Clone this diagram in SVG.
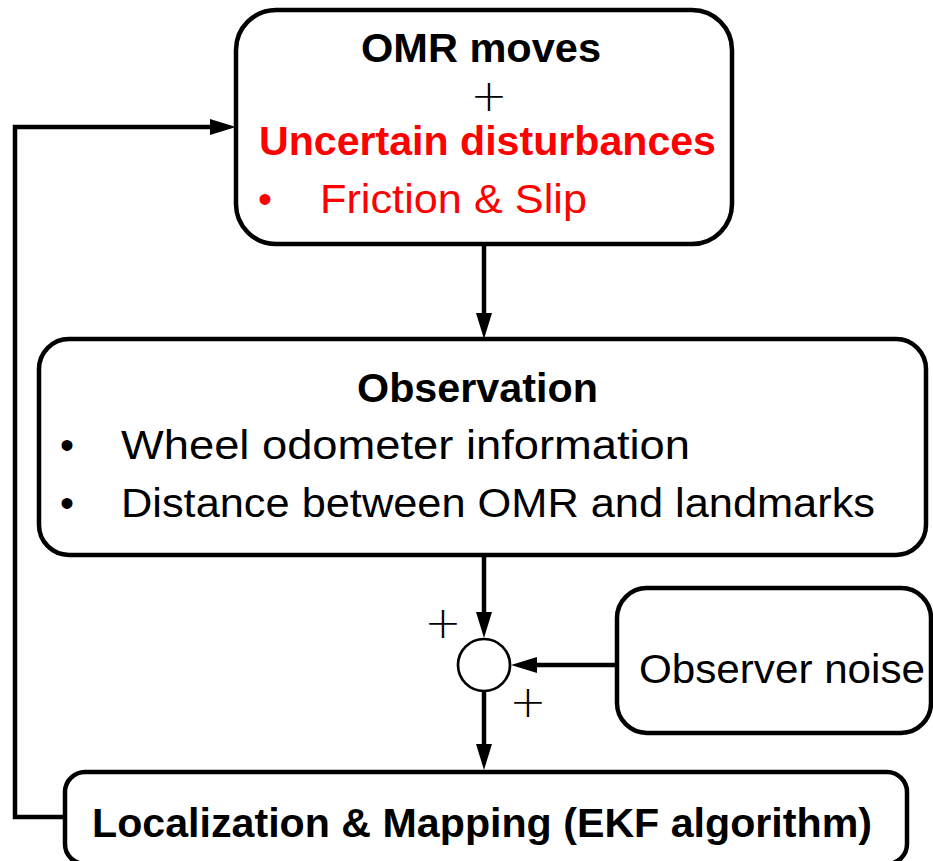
<svg xmlns="http://www.w3.org/2000/svg" width="933" height="861" viewBox="0 0 933 861">
  <style>
    .box { fill: #ffffff; stroke: #000000; stroke-width: 4.5; }
    .line { fill: none; stroke: #000000; stroke-width: 4.5; }
    .sum { fill: #ffffff; stroke: #000000; stroke-width: 2.7; }
    text { font-family: "Liberation Sans", Arial, sans-serif; font-size: 40px; fill: #000000; }
    .b { font-weight: bold; }
    .red { fill: #ff0000; }
    .plus { font-family: "DejaVu Sans ExtraLight", "DejaVu Sans", sans-serif; font-weight: 200; font-size: 44px; text-anchor: middle; }
    .bul { text-anchor: middle; }
  </style>
  <defs>
    <marker id="arr" markerUnits="userSpaceOnUse" markerWidth="26" markerHeight="16" refX="0" refY="8" orient="auto" overflow="visible">
      <path d="M0,0 L26,8 L0,16 Z" fill="#000000"/>
    </marker>
  </defs>
  <rect width="933" height="861" fill="#ffffff"/>

  <g id="connectors">
    <path class="line" d="M65,817 H15 V127 H210" marker-end="url(#arr)"/>
    <path class="line" d="M484,244 V313" marker-end="url(#arr)"/>
    <path class="line" d="M484,555 V612" marker-end="url(#arr)"/>
    <path class="line" d="M484,691 V744" marker-end="url(#arr)"/>
    <path class="line" d="M617,665 H537" marker-end="url(#arr)"/>
  </g>

  <g id="omr-moves">
    <rect class="box" x="236" y="10" width="496" height="234" rx="40" ry="40"/>
    <text class="b" x="361" y="62" textLength="240" lengthAdjust="spacingAndGlyphs">OMR moves</text>
    <text class="plus" x="489" y="111">+</text>
    <text class="b red" x="259" y="155" textLength="457" lengthAdjust="spacingAndGlyphs">Uncertain disturbances</text>
    <text class="bul red" x="265" y="213">•</text>
    <text class="red" x="320" y="213" textLength="267" lengthAdjust="spacingAndGlyphs">Friction &amp; Slip</text>
  </g>

  <g id="observation">
    <rect class="box" x="39" y="339" width="887" height="216" rx="30" ry="30"/>
    <text class="b" x="357" y="402" textLength="241" lengthAdjust="spacingAndGlyphs">Observation</text>
    <text class="bul" x="67" y="459">•</text>
    <text x="121" y="459" textLength="569" lengthAdjust="spacingAndGlyphs">Wheel odometer information</text>
    <text class="bul" x="67" y="517">•</text>
    <text x="121" y="517" textLength="754" lengthAdjust="spacingAndGlyphs">Distance between OMR and landmarks</text>
  </g>

  <g id="sum-junction">
    <circle class="sum" cx="484" cy="665" r="26"/>
    <text class="plus" x="443" y="638">+</text>
    <text class="plus" x="528" y="717">+</text>
  </g>

  <g id="observer-noise">
    <rect class="box" x="617" y="588" width="314" height="145" rx="30" ry="30"/>
    <text x="639" y="683" textLength="286" lengthAdjust="spacingAndGlyphs">Observer noise</text>
  </g>

  <g id="localization">
    <rect class="box" x="65" y="772" width="842" height="92" rx="20" ry="20"/>
    <text class="b" x="92" y="837" textLength="780" lengthAdjust="spacingAndGlyphs">Localization &amp; Mapping (EKF algorithm)</text>
  </g>
</svg>
